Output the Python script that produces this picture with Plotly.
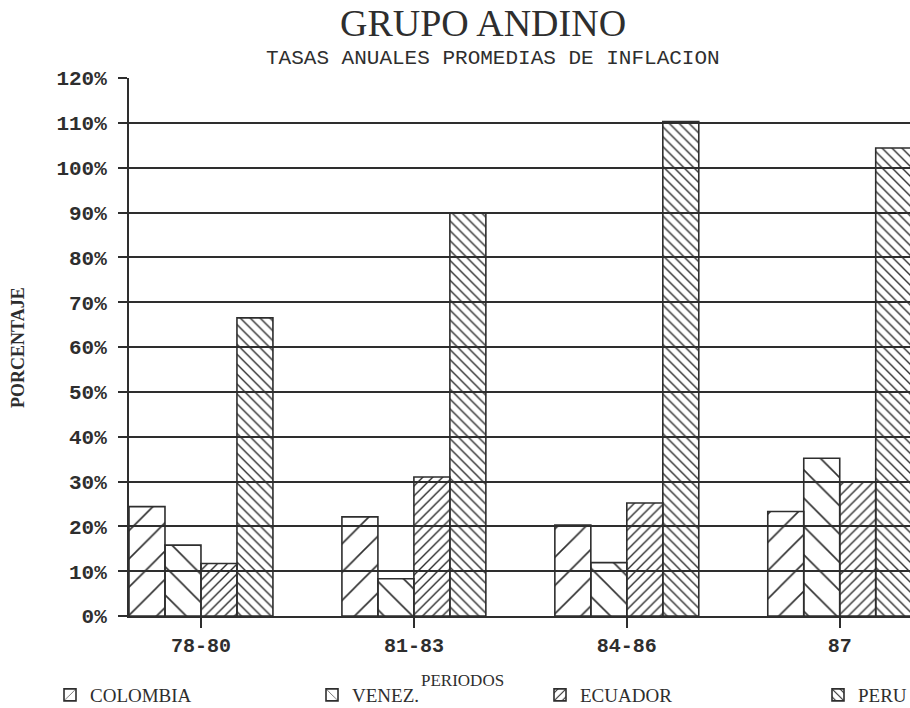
import plotly.graph_objects as go

periods = ["78-80", "81-83", "84-86", "87"]
countries = ["COLOMBIA", "VENEZ.", "ECUADOR", "PERU"]
colombia = [24.4, 22.1, 20.3, 23.3]
venez = [15.8, 8.3, 11.9, 35.2]
ecuador = [11.7, 31.0, 25.2, 29.9]
peru = [66.5, 89.9, 110.3, 104.4]
y_ticks = list(range(0, 121, 10))
y_tick_labels = [f"{v}%" for v in y_ticks]

series = [colombia, venez, ecuador, peru]
shapes = ["/", "\\", "/", "\\"]
sizes = [20, 20, 7, 7]
solid = [0.08, 0.08, 0.2, 0.2]
legend_ids = ["legend", "legend2", "legend3", "legend4"]
legend_text_x = [98, 360, 588, 866]

INK = "#2e2e2e"

fig = go.Figure()
for name, vals, shp, sz, so, lg in zip(countries, series, shapes, sizes, solid, legend_ids):
    fig.add_trace(go.Bar(
        x=periods, y=vals, name=name, legend=lg,
        marker=dict(color="rgba(0,0,0,0)",
                    line=dict(color=INK, width=1.6),
                    pattern=dict(shape=shp, size=sz, solidity=so,
                                 fgcolor=INK, fgopacity=1,
                                 fillmode="overlay")),
    ))

legend_common = dict(orientation="h", xref="container", yref="container",
                     y=(708 - 695) / 708, xanchor="left", yanchor="middle",
                     font=dict(family="Liberation Serif", size=19, color=INK),
                     bgcolor="rgba(0,0,0,0)")
legends = {}
for lg, tx in zip(legend_ids, legend_text_x):
    legends[lg] = dict(legend_common, x=(tx - 48) / 910)

fig.update_layout(
    width=910, height=708,
    margin=dict(l=129, r=0, t=78, b=92, autoexpand=False),
    paper_bgcolor="white", plot_bgcolor="white",
    barmode="group", bargap=0.324, bargroupgap=0,
    showlegend=True,
    **legends,
    xaxis=dict(type="category", range=[-0.338, 3.33],
               showgrid=False, showline=True, linecolor=INK, linewidth=2,
               ticks="outside", ticklen=10, tickwidth=2, tickcolor=INK,
               ticklabelstandoff=0,
               tickfont=dict(family="Liberation Mono", size=20, color=INK,
                             weight="bold")),
    yaxis=dict(range=[0, 120], tickvals=y_ticks, ticktext=y_tick_labels,
               showgrid=True, gridcolor=INK, gridwidth=1.9,
               showline=True, linecolor=INK, linewidth=2,
               zeroline=False,
               ticks="outside", ticklen=9, tickwidth=2, tickcolor=INK,
               ticklabelstandoff=7,
               tickfont=dict(family="Liberation Mono", size=21, color=INK,
                             weight="bold")),
    annotations=[
        dict(text="GRUPO ANDINO", xref="paper", yref="paper",
             x=(483 - 129) / 781, y=1 + (78 - 23) / 538,
             xanchor="center", yanchor="middle", showarrow=False,
             font=dict(family="Liberation Serif", size=38, color=INK)),
        dict(text="TASAS ANUALES PROMEDIAS DE INFLACION", xref="paper", yref="paper",
             x=(493 - 129) / 781, y=1 + (78 - 58) / 538,
             xanchor="center", yanchor="middle", showarrow=False,
             font=dict(family="Liberation Mono", size=21, color=INK)),
        dict(text="PERIODOS", xref="paper", yref="paper",
             x=(462 - 129) / 781, y=-(680 - 616) / 538,
             xanchor="center", yanchor="middle", showarrow=False,
             font=dict(family="Liberation Serif", size=17, color=INK)),
        dict(text="PORCENTAJE", xref="paper", yref="paper",
             x=-(129 - 18) / 781, y=(616 - 348) / 538, textangle=-90,
             xanchor="center", yanchor="middle", showarrow=False,
             font=dict(family="Liberation Serif", size=18, color=INK,
                       weight="bold")),
    ],
)

fig.write_html("out.html")
